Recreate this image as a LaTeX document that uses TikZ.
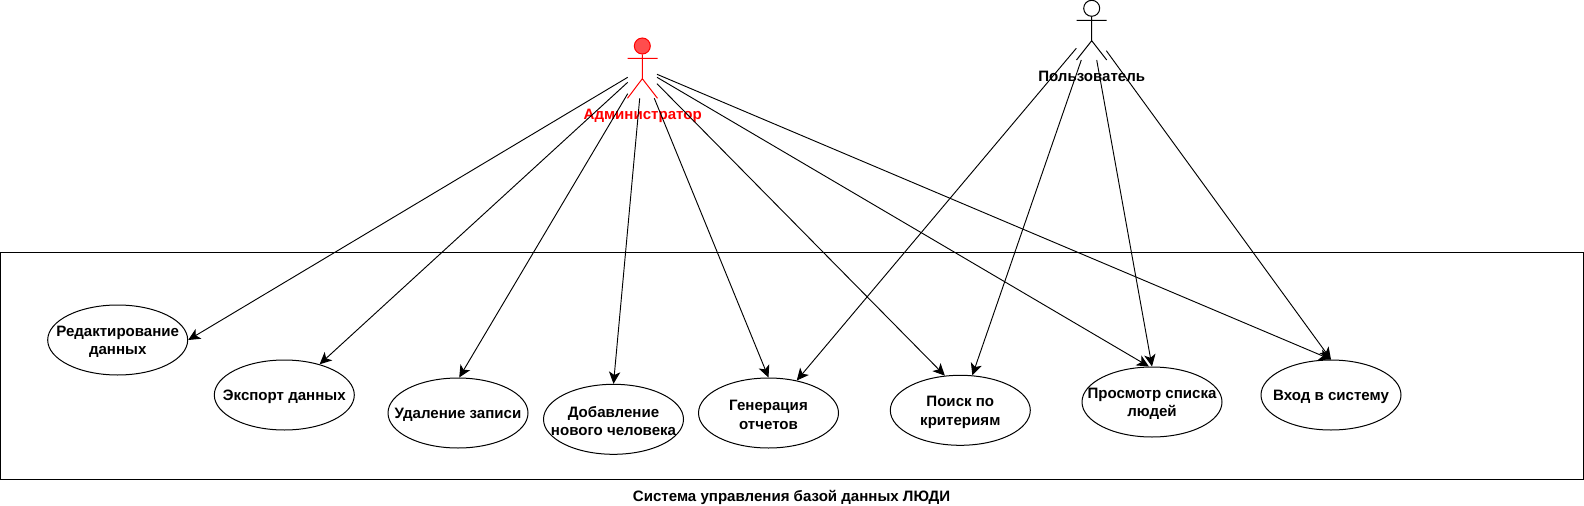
\documentclass[tikz,border=0pt]{standalone}
\usepackage{fontspec}
\setmainfont{Liberation Sans}
\usetikzlibrary{arrows.meta,shapes.geometric}
\definecolor{admred}{HTML}{FF0000}
\definecolor{admfill}{HTML}{FF4D4D}
\tikzset{
  uc/.style={ellipse,draw=black,fill=white,line width=0.75pt,minimum width=105pt,minimum height=52.5pt,inner sep=0pt,
    label={[align=center,font=\fontsize{11.3}{13.9}\bfseries\selectfont,text=black,yshift=-1.4pt]center:#1}},
  link/.style={draw=black,line width=0.7pt,-{Stealth[length=9pt,width=8.5pt,inset=2.4pt]}},
  stick/.style={line width=0.75pt},
  actorhead/.style={circle,draw,line width=0.75pt,minimum size=12pt,inner sep=0pt},
  lbl/.style={font=\fontsize{11.3}{13.9}\bfseries\selectfont,inner sep=0pt},
}
\begin{document}
\begin{tikzpicture}[x=0.75pt,y=-0.75pt]
\useasboundingbox (0,0) rectangle (1584,506);
% system boundary
\node[draw=black,line width=0.75pt,minimum width=1187.25pt,minimum height=170.6pt,inner sep=0pt] (sys) at (792,366.25) {};
\node[lbl] (title) at (791.6,497.5) {Система управления базой данных ЛЮДИ};
% use cases
\node[uc={Редактирование\\данных}] (edit) at (117.7,340) {};
\node[uc={Экспорт данных}] (export) at (284.3,395) {};
\node[uc={Удаление записи}] (del) at (458,413) {};
\node[uc={Добавление\\нового человека}] (add) at (613.5,419.3) {};
\node[uc={Генерация\\отчетов}] (gen) at (768.5,413) {};
\node[uc={Поиск по\\критериям}] (search) at (960.3,410.3) {};
\node[uc={Просмотр списка\\людей}] (view) at (1152,402) {};
\node[uc={Вход в систему}] (login) at (1331,395) {};
% administrator
\node[actorhead,draw=admred,fill=admfill] (ahead) at (642.3,46) {};
\coordinate (ahip) at (642.3,78.7);
\coordinate (aarmL) at (627.5,58.3);
\coordinate (aarmR) at (657.5,58.3);
\coordinate (alegL) at (627.5,98.3);
\coordinate (alegR) at (657.5,98.3);
\draw[stick,admred] (ahead) -- (ahip) (aarmL) -- (aarmR) (alegL) -- (ahip) -- (alegR);
\node[lbl,text=admred] (alabel) at (642.7,116) {Администратор};
% user
\node[actorhead,draw=black,fill=white] (uhead) at (1091.7,8.3) {};
\coordinate (uhip) at (1091.7,40.7);
\coordinate (uarmL) at (1076.5,20.3);
\coordinate (uarmR) at (1106.7,20.3);
\coordinate (ulegL) at (1076.5,60);
\coordinate (ulegR) at (1106.7,60);
\draw[stick] (uhead) -- (uhip) (uarmL) -- (uarmR) (ulegL) -- (uhip) -- (ulegR);
\node[lbl] (ulabel) at (1091.7,76.2) {Пользователь};
% connector free ends
\coordinate (a1) at (627.7,77.3);
\coordinate (a2) at (627.7,82.3);
\coordinate (a3) at (627.7,93.7);
\coordinate (a4) at (639.7,98.3);
\coordinate (a5) at (654.3,98.3);
\coordinate (a6) at (657,83.7);
\coordinate (a7) at (657,77.3);
\coordinate (a8) at (657,74.3);
\coordinate (u1) at (1076.3,48.3);
\coordinate (u2) at (1081.3,60);
\coordinate (u3) at (1096.7,60);
\coordinate (u4) at (1106.3,50.7);
% connectors
\draw[link] (a1) -- (edit.0);
\draw[link] (a2) -- (export.41.8);
\draw[link] (a3) -- (del.88);
\draw[link] (a4) -- (add.90);
\draw[link] (a5) -- (gen.90);
\draw[link] (a6) -- (search.114);
\draw[link] (a7) -- (view.95.7);
\draw[link] (a8) -- (login.90);
\draw[link] (u1) -- (gen.49.5);
\draw[link] (u2) -- (search.71.5);
\draw[link] (u3) -- (view.90);
\draw[link] (u4) -- (login.90);
\end{tikzpicture}
\end{document}
